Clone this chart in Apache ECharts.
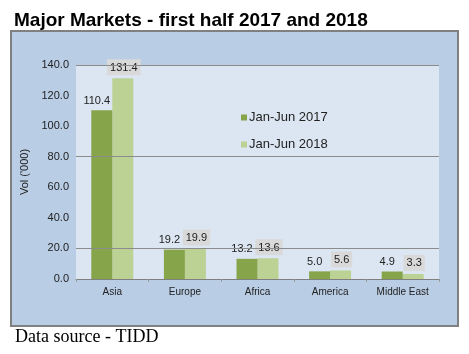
<!DOCTYPE html>
<html>
<head>
<meta charset="utf-8">
<script src="https://cdn.jsdelivr.net/npm/echarts@6/dist/echarts.min.js"></script>
<style>
html, body { margin: 0; padding: 0; background: #fff; }
#chart { width: 469px; height: 354px; }
</style>
</head>
<body>
<div id="chart"></div>
<script>
var regions = ['Asia', 'Europe', 'Africa', 'America', 'Middle East'];
var h1_2017 = [110.4, 19.2, 13.2, 5.0, 4.9];
var h1_2018 = [131.4, 19.9, 13.6, 5.6, 3.3];
var seriesNames = ['Jan-Jun 2017', 'Jan-Jun 2018'];
var gridLines = [20, 80, 140];

var myChart = echarts.init(document.getElementById('chart'));

function oneDecimal(p) {
    return p.value.toFixed(1);
}

var option = {
    backgroundColor: '#ffffff',
    animation: false,
    title: {
        text: 'Major Markets - first half 2017 and 2018',
        left: 9,
        top: 6,
        textStyle: { fontFamily: 'Arial', fontWeight: 'bold', fontSize: 19, color: '#000' }
    },
    graphic: [
        {
            type: 'rect',
            z: -10,
            shape: { x: 11, y: 31, width: 447, height: 295 },
            style: { fill: '#b9cde5', stroke: '#808080', lineWidth: 2 }
        },
        {
            type: 'text',
            left: 15,
            top: 328,
            style: { text: 'Data source - TIDD', font: '18px "Liberation Serif", serif', fill: '#000' }
        }
    ],
    legend: {
        orient: 'vertical',
        left: 236,
        top: 106,
        itemGap: 14,
        itemWidth: 6,
        itemHeight: 6,
        icon: 'rect',
        data: seriesNames,
        textStyle: { fontFamily: 'Arial', fontSize: 13, color: '#222', padding: [0, 0, 0, -3] }
    },
    grid: {
        left: 76, right: 30, top: 65, bottom: 75,
        show: true,
        backgroundColor: '#dce6f2',
        borderWidth: 0
    },
    xAxis: {
        type: 'category',
        data: regions,
        axisLine: { lineStyle: { color: '#808080', width: 1 } },
        axisTick: { show: true, length: 3, lineStyle: { color: '#999' } },
        axisLabel: { fontFamily: 'Arial', fontSize: 10, color: '#222', margin: 8 }
    },
    yAxis: {
        type: 'value',
        min: 0,
        max: 140,
        interval: 20,
        name: "Vol ('000)",
        nameLocation: 'middle',
        nameGap: 40,
        nameTextStyle: { fontFamily: 'Arial', fontSize: 11, color: '#222' },
        axisLine: { show: false },
        axisTick: { show: false },
        splitLine: { show: false },
        axisLabel: {
            fontFamily: 'Arial', fontSize: 11, color: '#222', margin: 7,
            formatter: function (v) { return v.toFixed(1); }
        }
    },
    series: [
        {
            name: seriesNames[0],
            type: 'bar',
            z: 3,
            data: h1_2017,
            barWidth: 21,
            barGap: '0%',
            itemStyle: { color: '#86a44a' },
            label: {
                show: true, position: 'top', distance: 4, offset: [-5, 0],
                fontFamily: 'Arial', fontSize: 11, color: '#222',
                formatter: oneDecimal
            },
            markLine: {
                silent: true,
                symbol: 'none',
                label: { show: false },
                lineStyle: { color: '#8c8c8c', type: 'solid', width: 1 },
                data: gridLines.map(function (v) { return { yAxis: v }; })
            }
        },
        {
            name: seriesNames[1],
            type: 'bar',
            data: h1_2018,
            barWidth: 21,
            itemStyle: { color: '#bbd294' },
            label: {
                show: true, position: 'top', distance: 3, offset: [1, 0],
                fontFamily: 'Arial', fontSize: 11, color: '#222',
                backgroundColor: '#d9d9d9',
                padding: [3, 3, 2, 3],
                formatter: oneDecimal
            }
        }
    ]
};

myChart.setOption(option);
</script>
</body>
</html>
